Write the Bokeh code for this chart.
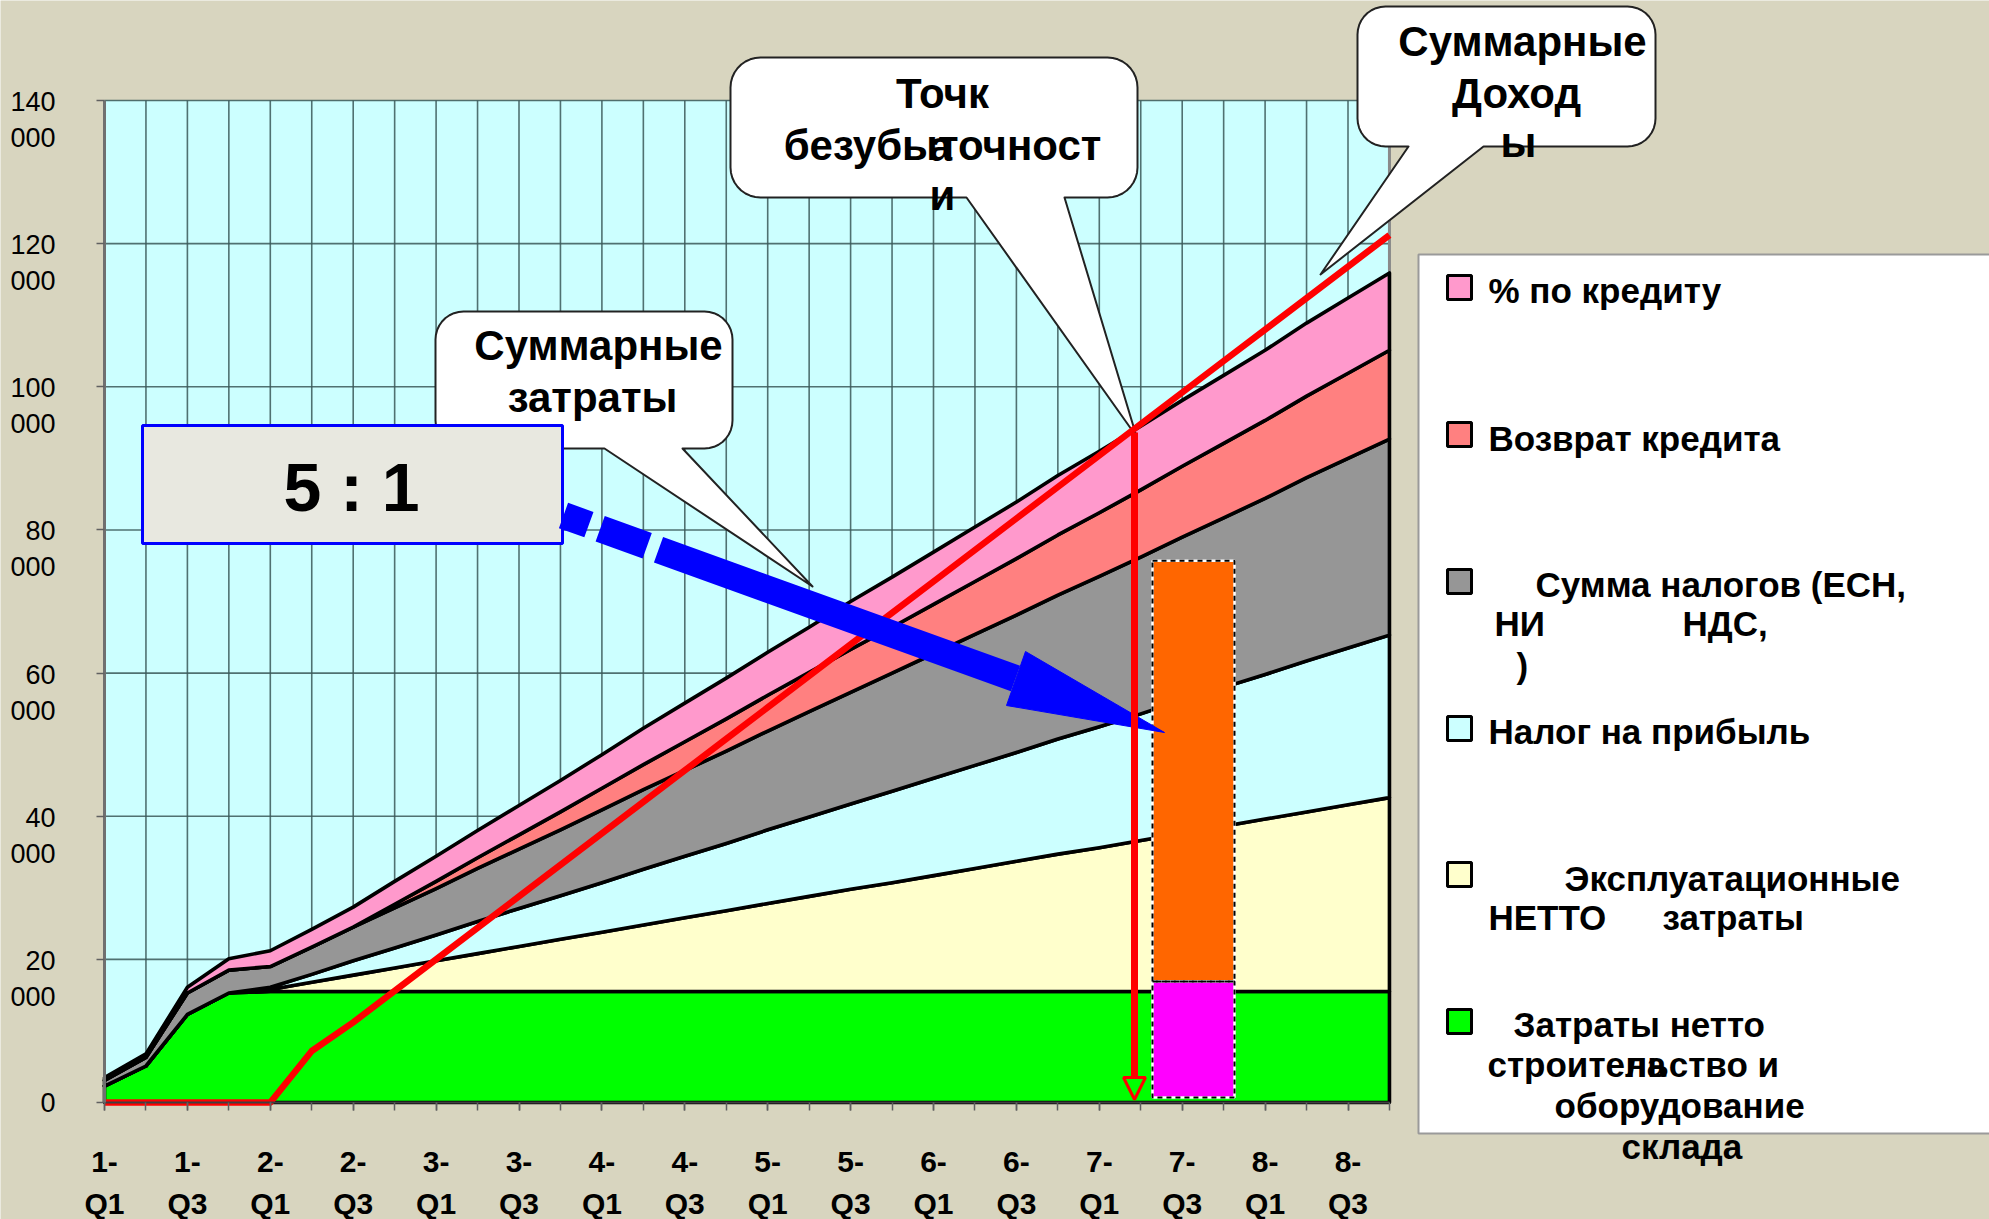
import numpy as np
from bokeh.plotting import figure
from bokeh.models import Range1d, FixedTicker, Arrow, NormalHead
from bokeh.core.properties import value
from bokeh.embed import file_html
from bokeh.resources import INLINE

# ---------------- data ----------------
quarters = ["1-Q1", "1-Q2", "1-Q3", "1-Q4", "2-Q1", "2-Q2", "2-Q3", "2-Q4",
            "3-Q1", "3-Q2", "3-Q3", "3-Q4", "4-Q1", "4-Q2", "4-Q3", "4-Q4",
            "5-Q1", "5-Q2", "5-Q3", "5-Q4", "6-Q1", "6-Q2", "6-Q3", "6-Q4",
            "7-Q1", "7-Q2", "7-Q3", "7-Q4", "8-Q1", "8-Q2", "8-Q3", "8-Q4"]

construction = [2300, 5100, 12300, 15300, 15500, 15500, 15500, 15500,
                15500, 15500, 15500, 15500, 15500, 15500, 15500, 15500,
                15500, 15500, 15500, 15500, 15500, 15500, 15500, 15500,
                15500, 15500, 15500, 15500, 15500, 15500, 15500, 15500]
operating = [0, 0, 0, 0, 300, 1300, 2300, 3300,
             4300, 5300, 6300, 7300, 8300, 9300, 10300, 11300,
             12300, 13300, 14300, 15200, 16200, 17200, 18200, 19200,
             20100, 21100, 22100, 23100, 24100, 25100, 26100, 27100]
profit_tax = [0, 0, 0, 0, 300, 1100, 2000, 2800,
              3600, 4500, 5300, 6100, 6900, 7800, 8600, 9400,
              10300, 11100, 11900, 12800, 13600, 14400, 15200, 16100,
              16900, 17700, 18600, 19400, 20200, 21100, 21900, 22700]
taxes = [800, 1200, 3000, 3200, 2900, 3800, 4700, 5600,
         6500, 7400, 8300, 9200, 10200, 11100, 12000, 12900,
         13800, 14700, 15600, 16500, 17400, 18300, 19200, 20100,
         21000, 21900, 22800, 23700, 24600, 25600, 26500, 27400]
loan_return = [0, 0, 0, 0, 0, 0, 0, 500,
               1000, 1500, 2000, 2500, 3000, 3500, 4000, 4500,
               5000, 5500, 6000, 6400, 6900, 7400, 7900, 8400,
               8900, 9400, 9900, 10400, 10900, 11400, 11900, 12400]
interest = [400, 500, 800, 1600, 2200, 2500, 2800, 3200,
            3500, 3800, 4100, 4400, 4700, 5100, 5400, 5700,
            6000, 6300, 6700, 7000, 7300, 7600, 7900, 8300,
            8600, 8900, 9200, 9500, 9800, 10200, 10500, 10800]
revenue = [0, 0, 0, 0, 0, 7200, 11200, 15600,
           20000, 24400, 28800, 33200, 37600, 42000, 46400, 50800,
           55200, 59600, 64000, 68400, 72800, 77200, 81600, 86000,
           90400, 94800, 99200, 103600, 108000, 112400, 116800, 121200]

bar_levels = [700, 16900, 75700]   # magenta bottom, split, orange top

y_tick_values = [0, 20000, 40000, 60000, 80000, 100000, 120000, 140000]
y_tick_labels = ["0", "20\n000", "40\n000", "60\n000", "80\n000",
                 "100\n000", "120\n000", "140\n000"]

series_names = ["% по кредиту", "Возврат кредита", "Сумма налогов (ЕСН, НИ НДС, )",
                "Налог на прибыль", "Эксплуатационные НЕТТО затраты",
                "Затраты нетто на строительство и оборудование склада"]

# ---------------- layout helpers (image pixels -> data) ----------------
W, H = 1989, 1219
OFF = 0
X0, Y0 = 104, 1102          # image px of (quarter 0, value 0)
PXQ = 41.45                 # px per quarter
PXV = 7.157 / 1000.0        # px per unit value


def dx(X):
    return (X - X0) / PXQ


def dy(Y):
    return (Y0 - Y) / PXV


BG = "#d8d5bf"
FONT_NAME = "Liberation Sans"
FONT = value(FONT_NAME)

p = figure(width=W, height=H,
           x_range=Range1d(dx(OFF), dx(OFF + W)),
           y_range=Range1d(dy(OFF + H), dy(OFF)),
           output_backend="svg", toolbar_location=None, min_border=0,
           background_fill_color=BG, border_fill_color=BG,
           outline_line_color=None)
p.xgrid.visible = False
p.ygrid.visible = False

NQ = len(quarters)
qx = np.arange(NQ)
QMAX = NQ - 1
VMAX = y_tick_values[-1]

# plot area background
p.quad(left=[0], right=[QMAX], bottom=[0], top=[VMAX],
       fill_color="#ccffff", line_color=None, level="image")

# grid lines
p.segment(x0=list(qx[1:]), x1=list(qx[1:]), y0=[0] * (NQ - 1), y1=[VMAX] * (NQ - 1),
          line_color="#3a5858", line_width=1.6, line_alpha=0.85, level="underlay")
p.segment(x0=[0] * (len(y_tick_values) - 1), x1=[QMAX] * (len(y_tick_values) - 1),
          y0=y_tick_values[1:], y1=y_tick_values[1:],
          line_color="#3a5858", line_width=1.6, line_alpha=0.85, level="underlay")
p.segment(x0=[QMAX], x1=[QMAX], y0=[0], y1=[VMAX], line_color="#8a8a8a",
          line_width=3, level="underlay")

# stacked areas
layers = [(construction, "#00ff00"), (operating, "#ffffcc"), (profit_tax, "#ccffff"),
          (taxes, "#969696"), (loan_return, "#ff8080"), (interest, "#ff99cc")]
bottom = np.zeros(NQ)
for vals, col in layers:
    top = bottom + np.array(vals, dtype=float)
    xs = np.concatenate([qx, qx[::-1]])
    ys = np.concatenate([top, bottom[::-1]])
    p.patch(xs, ys, fill_color=col, line_color="black", line_width=3.6,
            line_join="round")
    bottom = top

# orange / magenta bars
bl, br = dx(1152), dx(1234)
p.quad(left=[bl], right=[br], bottom=[bar_levels[1]], top=[bar_levels[2]],
       fill_color="#ff6600", line_color="white", line_width=2.5)
p.quad(left=[bl], right=[br], bottom=[bar_levels[0]], top=[bar_levels[1]],
       fill_color="#ff00ff", line_color="white", line_width=2.5)
p.quad(left=[bl, bl], right=[br, br], bottom=[bar_levels[1], bar_levels[0]],
       top=[bar_levels[2], bar_levels[1]], fill_color=None,
       line_color="black", line_width=2, line_dash="5 4")


# callouts
def callout(x0, y0, x1, y1, r, b0, b1, tip, n=10):
    pts = []

    def arc(cx, cy, a0, a1):
        for t in np.linspace(a0, a1, n):
            pts.append((cx + r * np.cos(t), cy + r * np.sin(t)))
    arc(x0 + r, y0 + r, np.pi, 1.5 * np.pi)
    arc(x1 - r, y0 + r, 1.5 * np.pi, 2 * np.pi)
    arc(x1 - r, y1 - r, 0, 0.5 * np.pi)
    pts.append((b1, y1))
    pts.append(tip)
    pts.append((b0, y1))
    arc(x0 + r, y1 - r, 0.5 * np.pi, np.pi)
    xs = [dx(a) for a, _ in pts]
    ys = [dy(b) for _, b in pts]
    p.patch(xs, ys, fill_color="white", line_color="#222222", line_width=2,
            line_join="round")


def texts(items, size, align="center", style="bold"):
    p.text(x=[dx(a) for _, a, _ in items], y=[dy(b) for _, _, b in items],
           text=[t for t, _, _ in items], text_font=FONT, text_font_size=size,
           text_font_style=style, text_align=align, text_baseline="middle",
           text_color="black")


callout(435, 311, 732, 448, 28, 604, 682, (812, 586))
callout(730, 57, 1137, 197, 30, 966, 1064, (1136, 436))
callout(1357, 6, 1655, 146, 28, 1408, 1483, (1320, 274))

texts([("Суммарные", 598, 345), ("затраты", 592, 397)], "42px")
texts([("Точк", 942, 93), ("безубыточност", 942, 145), ("а", 940, 146),
       ("и", 942, 195)], "42px")
texts([("Суммарные", 1522, 41), ("Доход", 1516, 93), ("ы", 1518, 142)], "42px")

# revenue line
p.line(qx, revenue, line_color="#ff0000", line_width=6.5, line_join="round")

# 5:1 box
p.quad(left=[dx(142)], right=[dx(562)], top=[dy(425)], bottom=[dy(543)],
       fill_color="#e8e8e0", line_color="#0000ff", line_width=3)
texts([("5 : 1", 351, 486)], "68px")

# blue arrow
S, B = (563, 515), (1015, 678)
p.line([dx(S[0]), dx(B[0])], [dy(S[1]), dy(B[1])], line_color="#0000ff",
       line_width=27, line_dash="27 12 50 12 600", line_cap="butt")
head = [(1025, 651), (1164, 732), (1006, 705)]
p.patch([dx(a) for a, _ in head], [dy(b) for _, b in head],
        fill_color="#0000ff", line_color="#0000ff", line_width=1)

# legend
p.quad(left=[dx(1418)], right=[dx(2010)], top=[dy(254)], bottom=[dy(1133)],
       fill_color="white", line_color="#9a9a9a", line_width=2)
sq_y = [287, 434, 581, 728, 874, 1021]
sq_cols = ["#ff99cc", "#ff8080", "#969696", "#ccffff", "#ffffcc", "#00ff00"]
p.quad(left=[dx(1447)] * 6, right=[dx(1471)] * 6,
       top=[dy(y - 12) for y in sq_y], bottom=[dy(y + 12) for y in sq_y],
       fill_color=sq_cols, line_color="black", line_width=3)
texts([("% по кредиту", 1488, 290), ("Возврат кредита", 1488, 438),
       ("Сумма налогов (ЕСН,", 1535, 584), ("НИ", 1494, 623), ("НДС,", 1682, 623),
       (")", 1516, 665), ("Налог на прибыль", 1488, 731),
       ("Эксплуатационные", 1564, 878), ("НЕТТО", 1488, 917), ("затраты", 1662, 917),
       ("Затраты нетто", 1513, 1024), ("строительство и", 1487, 1064),
       ("на", 1625, 1064), ("оборудование", 1554, 1105), ("склада", 1621, 1146)],
      "35px", align="left")

# red break-even arrow
p.add_layout(Arrow(end=NormalHead(size=22, fill_color=None, line_color="#ff0000",
                                  line_width=3),
                   x_start=dx(1134), y_start=dy(432), x_end=dx(1134), y_end=dy(1099),
                   line_color="#ff0000", line_width=7))

# ---------------- axes ----------------
xa = p.xaxis[0]
xa.fixed_location = 0
xa.bounds = (0, QMAX)
xa.ticker = FixedTicker(ticks=list(range(0, NQ, 2)), minor_ticks=list(range(NQ)))
xa.major_label_overrides = {i: quarters[i].replace("-", "-\n") for i in range(0, NQ, 2)}
xa.axis_line_color = "#404040"
xa.axis_line_width = 2
xa.major_tick_out = 8
xa.major_tick_in = 0
xa.minor_tick_out = 8
xa.minor_tick_in = 0
xa.major_tick_line_color = "#606060"
xa.minor_tick_line_color = "#606060"
xa.major_tick_line_width = 1.5
xa.minor_tick_line_width = 1.5
xa.major_label_text_font = FONT_NAME
xa.major_label_text_font_style = "bold"
xa.major_label_text_font_size = "30px"
xa.major_label_text_color = "black"
xa.major_label_text_line_height = 1.3
xa.major_label_standoff = 34

SHIFT = 19.5 / PXV
ya = p.yaxis[0]
ya.fixed_location = 0
ya.bounds = (0, VMAX)
major_y = [0] + [v - SHIFT for v in y_tick_values[1:]]
ya.ticker = FixedTicker(ticks=major_y, minor_ticks=y_tick_values)
ya.major_label_overrides = {t: lab for t, lab in zip(major_y, y_tick_labels)}
ya.axis_line_color = "#707070"
ya.axis_line_width = 3
ya.major_tick_out = 0
ya.major_tick_in = 0
ya.minor_tick_out = 8
ya.minor_tick_in = 0
ya.minor_tick_line_color = "#606060"
ya.minor_tick_line_width = 1.5
ya.major_label_text_font = FONT_NAME
ya.major_label_text_font_size = "27px"
ya.major_label_text_color = "black"
ya.major_label_text_line_height = 1.2
ya.major_label_standoff = 41

open("out.html", "w").write(file_html(p, INLINE))
